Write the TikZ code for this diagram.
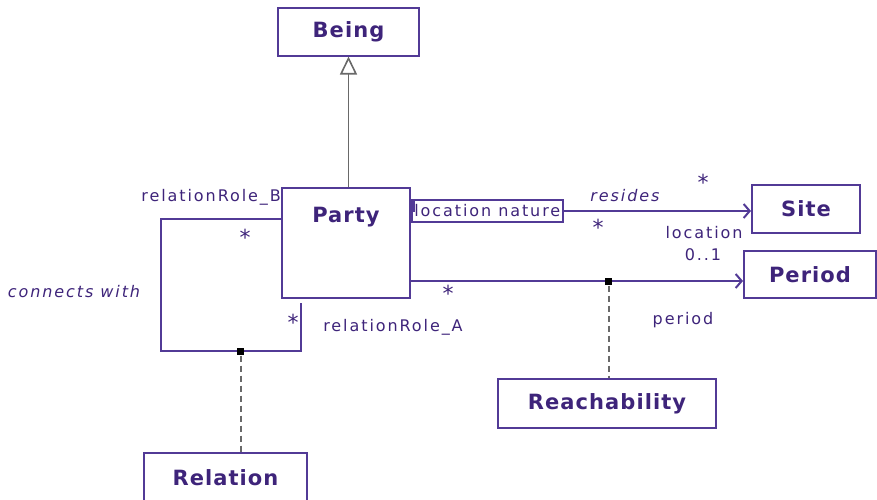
\documentclass[tikz,border=0pt]{standalone}
\usepackage{fontspec}
\setmainfont{DejaVu Sans}[LetterSpace=12,BoldFeatures={LetterSpace=5}]
\usepackage{tikz}
\usetikzlibrary{arrows.meta}

\definecolor{umlline}{RGB}{82,58,150}
\definecolor{umltext}{RGB}{62,36,122}
\definecolor{umlgray}{RGB}{105,105,105}

\begin{document}
\begin{tikzpicture}[x=1pt,y=-1pt]
        \tikzstyle{class} = [rectangle, draw=umlline, line width=2pt, text=umltext, font=\fontsize{21}{25}\selectfont\bfseries, minimum height=48pt]
        \tikzstyle{line} = [draw=umlline, line width=2pt, -{Straight Barb[length=6pt,width=14pt,line width=2pt]}]
        \tikzstyle{assoc} = [draw=umlline, line width=2pt]
        \tikzstyle{link} = [draw=umlgray, line width=1.6pt, dash pattern=on 6pt off 4pt]
        \tikzstyle{joint} = [rectangle, fill=black, inner sep=0pt, minimum size=7pt]
        \tikzstyle{lbl} = [text=umltext, font=\fontsize{16}{19}\selectfont, inner sep=0pt]
        \tikzstyle{ital} = [lbl, font=\fontsize{16}{19}\selectfont\itshape]
        \tikzstyle{mult} = [lbl, font=\fontsize{22}{26}\selectfont]

        \clip (0,0) rectangle (877,499);

        \node [class, text height=30pt, text depth=72pt, inner ysep=4pt, minimum width=128pt] (party) at (346,243) {Party};
        \node [class, above of=party, node distance=211.5pt, xshift=2.5pt, minimum width=141pt] (being) {Being};
        \node [class, right of=party, node distance=460pt, yshift=34pt, minimum width=108pt] (site) {Site};
        \node [class, right of=party, node distance=464pt, yshift=-31.5pt, minimum width=132pt, minimum height=47pt] (period) {Period};
        \node [class, below of=party, node distance=160.5pt, xshift=261pt, minimum width=218pt, minimum height=49pt] (reach) {Reachability};
        \node [class, below of=party, node distance=234.5pt, xshift=-120.5pt, minimum width=163pt, minimum height=49pt] (relation) {Relation};
        \node [lbl, draw=umlline, line width=1.6pt, minimum width=151pt, minimum height=22pt, anchor=west] (qual) at ([yshift=32pt]party.east) {location nature};
        \fill [umlline] (qual.north west) rectangle ++(3.5,13);

        \path [draw=umlgray, line width=1.8pt, -{Triangle[open, length=18pt, width=17pt, line width=1.6pt]}] (party.north -| being.south) -- (being.south);
        \path [line] (qual.east) -- (qual.east -| site.west);
        \coordinate (pa) at ([yshift=-38pt]party.east);
        \path [line] (pa) -- node[joint, pos=0.596] (rj) {} (pa -| period.west);
        \path [link] (rj.south) -- (rj |- reach.north);
        \path [assoc] ([yshift=24pt]party.west) -- ++(-120,0) -- ++(0,132) -- node[joint, pos=0.571] (rr) {} ++(140,0) -- ++(0,-48);
        \path [link] (rr.south) -- (rr |- relation.north);

        \node [lbl, anchor=east] (roleb) at (281,197) {relationRole\_B};
        \node [mult] (multb) at (245,237) {*};
        \node [mult] (multa) at (293,322) {*};
        \node [lbl] (rolea) at (393,327) {relationRole\_A};
        \node [ital] (connects) at (74,292) {connects with};
        \node [ital] (resides) at (625,196) {resides};
        \node [mult] (multsite) at (703,182) {*};
        \node [mult] (multqual) at (598,227) {*};
        \node [lbl] (location) at (704,233) {location};
        \node [lbl] (locmult) at (703,255) {0..1};
        \node [mult] (multparty) at (448,293) {*};
        \node [lbl] (periodrole) at (683,320) {period};
    \end{tikzpicture}
\end{document}
